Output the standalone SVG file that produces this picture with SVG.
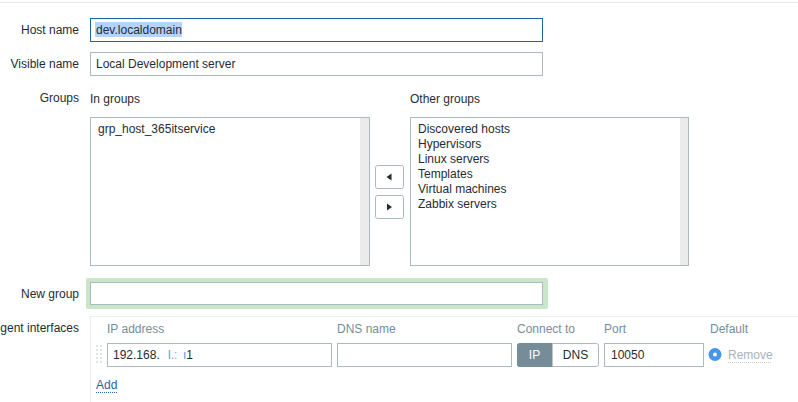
<svg xmlns="http://www.w3.org/2000/svg" width="798" height="402" viewBox="0 0 798 402">
<style>
text{font-family:"Liberation Sans",Arial,sans-serif;font-size:12px}
.t{fill:#1f2c33}
.lbl{text-anchor:end}
.hdr{fill:#768d99}
.wht{fill:#fff}
.rm{fill:#a7b4bc}
.lnk{fill:#1f65a6}
.ob1{fill:#4f9be0}
.ob2{fill:#8aa6bd}
.inp{fill:#fff;stroke:#acbbc2;stroke-width:1}
.list{fill:#fff;stroke:#acbbc2;stroke-width:1}
.sb{fill:#ebebeb}
.btn{fill:#fff;stroke:#acbbc2;stroke-width:1}
</style>
<rect width="798" height="402" fill="#fff"/>
<line x1="0" y1="2.5" x2="798" y2="2.5" stroke="#ebebeb" stroke-width="1"/>

<g id="host-name">
<text class="t lbl" x="79" y="34">Host name</text>
<rect x="90.5" y="18.5" width="452" height="23" fill="#fff" stroke="#1f65a6" stroke-width="1"/>
<rect x="95" y="22" width="87" height="15" fill="#b3d4fc"/>
<text class="t" x="96" y="34">dev.localdomain</text>
</g>

<g id="visible-name">
<text class="t lbl" x="79" y="68">Visible name</text>
<rect class="inp" x="90.5" y="52.5" width="452" height="23"/>
<text class="t" x="96" y="68">Local Development server</text>
</g>

<g id="groups">
<text class="t lbl" x="79" y="102">Groups</text>
<text class="t" x="90" y="103">In groups</text>
<text class="t" x="410" y="103">Other groups</text>
</g>

<g id="in-groups-list">
<rect class="list" x="90.5" y="117.5" width="279" height="148"/>
<rect class="sb" x="360" y="118" width="9" height="147"/>
<text class="t" x="98" y="133">grp_host_365itservice</text>
</g>

<g id="move-buttons">
<rect class="btn" x="375.5" y="165.5" width="28" height="23" rx="2"/>
<polygon points="386.5,177 391.5,173.5 391.5,180.5" fill="#1f2c33"/>
<rect class="btn" x="375.5" y="195.5" width="28" height="23" rx="2"/>
<polygon points="392,207 387,203.5 387,210.5" fill="#1f2c33"/>
</g>

<g id="other-groups-list">
<rect class="list" x="410.5" y="117.5" width="278" height="148"/>
<rect class="sb" x="680" y="118" width="8" height="147"/>
<text class="t" x="418" y="133">Discovered hosts</text>
<text class="t" x="418" y="148">Hypervisors</text>
<text class="t" x="418" y="163">Linux servers</text>
<text class="t" x="418" y="178">Templates</text>
<text class="t" x="418" y="193">Virtual machines</text>
<text class="t" x="418" y="208">Zabbix servers</text>
</g>

<g id="new-group">
<text class="t lbl" x="79" y="298">New group</text>
<rect x="86" y="278" width="462" height="31" rx="2" fill="#c8e6c9"/>
<rect class="inp" x="90.5" y="282.5" width="452" height="22"/>
</g>

<g id="agent-interfaces">
<text class="t lbl" x="79" y="332">gent interfaces</text>
<line x1="90" y1="316.5" x2="798" y2="316.5" stroke="#ebeef0" stroke-width="1"/>
<line x1="90.5" y1="316" x2="90.5" y2="402" stroke="#ebeef0" stroke-width="1"/>
<text class="hdr" x="107" y="333">IP address</text>
<text class="hdr" x="337" y="333">DNS name</text>
<text class="hdr" x="517" y="333">Connect to</text>
<text class="hdr" x="604" y="333">Port</text>
<text class="hdr" x="710" y="333">Default</text>
<g fill="#dfe4e7">
<rect x="96" y="345" width="2" height="2"/><rect x="100" y="345" width="2" height="2"/>
<rect x="96" y="349" width="2" height="2"/><rect x="100" y="349" width="2" height="2"/>
<rect x="96" y="353" width="2" height="2"/><rect x="100" y="353" width="2" height="2"/>
<rect x="96" y="357" width="2" height="2"/><rect x="100" y="357" width="2" height="2"/>
<rect x="96" y="361" width="2" height="2"/><rect x="100" y="361" width="2" height="2"/>
</g>
<rect class="inp" x="107.5" y="343.5" width="224" height="23"/>
<text class="t" x="113" y="359">192.168.<tspan class="ob1" x="168">l</tspan><tspan class="ob2">.:</tspan><tspan class="ob1" x="183">ı</tspan><tspan class="t">1</tspan></text>
<rect class="inp" x="337.5" y="343.5" width="174" height="23"/>
<rect x="517.5" y="343.5" width="81" height="23" rx="2" fill="#fff" stroke="#acbbc2"/>
<path d="M519.5,343.5 H552 V366.5 H519.5 A2,2 0 0 1 517.5,364.5 V345.5 A2,2 0 0 1 519.5,343.5 Z" fill="#768d99" stroke="#768d99"/>
<text class="wht" x="534.5" y="359" text-anchor="middle">IP</text>
<text class="t" x="575.5" y="359" text-anchor="middle">DNS</text>
<rect class="inp" x="604.5" y="343.5" width="99" height="23"/>
<text class="t" x="611" y="359">10050</text>
<circle cx="715" cy="354.5" r="6.5" fill="#4796ea"/>
<circle cx="715" cy="354.5" r="2" fill="#fff"/>
<text class="rm" x="728" y="359">Remove</text>
<line x1="728" y1="362.5" x2="772" y2="362.5" stroke="#c4ccd1" stroke-width="1" stroke-dasharray="1,1"/>
<text class="lnk" x="96" y="389">Add</text>
<line x1="96" y1="392.5" x2="117" y2="392.5" stroke="#1f65a6" stroke-width="1" stroke-dasharray="1,1"/>
</g>
</svg>
